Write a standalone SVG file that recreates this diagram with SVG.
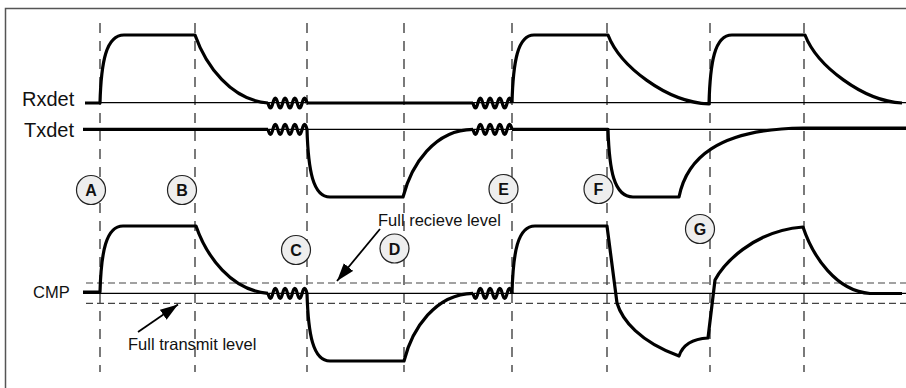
<svg xmlns="http://www.w3.org/2000/svg" xmlns:xlink="http://www.w3.org/1999/xlink" width="906" height="388" viewBox="0 0 906 388">
<style>
.thick{fill:none;stroke:#000;stroke-width:3.2;stroke-linejoin:round}
.thin{fill:none;stroke:#000;stroke-width:1.2}
.vdash{fill:none;stroke:#222;stroke-width:1.2;stroke-dasharray:10 8}
.hdash{fill:none;stroke:#444;stroke-width:1.2;stroke-dasharray:7 4}
.sig{font-family:"Liberation Sans",Arial,sans-serif;font-size:20px;fill:#111}
.lbl{font-family:"Liberation Sans",Arial,sans-serif;font-size:16.5px;fill:#111}
.mk circle{fill:#eeeeee;stroke:#222;stroke-width:1.2}
.mk text{font-family:"Liberation Sans",Arial,sans-serif;font-size:16px;font-weight:bold;fill:#111;text-anchor:middle}
.arr{fill:none;stroke:#000;stroke-width:1.8;marker-end:url(#ah)}
</style>
<defs>
<marker id="ah" markerUnits="userSpaceOnUse" markerWidth="20" markerHeight="14" refX="18" refY="6" orient="auto">
<path d="M0,0 L18,6 L0,12 z" fill="#000"/>
</marker>
<path id="sq" class="thick" d="M0,0 q2.44,10 4.875,0 q2.44,-10 4.875,0 q2.44,10 4.875,0 q2.44,-10 4.875,0 q2.44,10 4.875,0 q2.44,-10 4.875,0 q2.44,10 4.875,0 q2.44,-10 4.875,0"/>
</defs>
<rect x="5.5" y="8.5" width="1000" height="1000" fill="#fff" stroke="#555" stroke-width="1.5"/>
<g id="gridlines">
<path class="vdash" d="M100,23V372M195,23V372M307,23V372M404,23V372M512,23V372M607,23V372M710,23V372M804,23V372"/>
<path class="thin" d="M85,102.7H906M83,129.3H906M83,293.3H906"/>
<path class="hdash" d="M86,283H906M86,303.3H906"/>
</g>
<g id="rxdet">
<text class="sig" x="22" y="106">Rxdet</text>
<path class="thick" d="M85,103H100C101.1,62.2 106,35 124,35H195C205.8,65.6 231,100.3 268,103"/>
<use xlink:href="#sq" x="268" y="103"/>
<path class="thick" d="M307,103H473"/>
<use xlink:href="#sq" x="473" y="103"/>
<path class="thick" d="M512,103C513.1,62.2 517.5,35 534,35H608C620,66 666,102 709,104C710.1,62.6 714.5,35 732,35H805C817,66 863,101 902,103"/>
</g>
<g id="txdet">
<text class="sig" x="24" y="137">Txdet</text>
<path class="thick" d="M83,129.3H268"/>
<use xlink:href="#sq" x="268" y="129.3"/>
<path class="thick" d="M307,129.3C308.2,169.8 312.8,197 330,197H403C411.4,164.4 434.5,129.7 473,129.3"/>
<use xlink:href="#sq" x="473" y="129.3"/>
<path class="thick" d="M512,129.3H608C609.25,169.8 613.75,197 633,197H679C686.4,159.6 716.2,129 803,128H906"/>
</g>
<g id="cmp">
<text class="lbl" x="33" y="298">CMP</text>
<path class="thick" d="M83,292H100C101.15,252 106,226 123,226H196C206.6,256.6 231.5,290.6 268,293.3"/>
<use xlink:href="#sq" x="268" y="293.3"/>
<path class="thick" d="M307,293.3C308.2,334 312.8,361 330,361H404C412.2,328.4 435.5,294 473,293.3"/>
<use xlink:href="#sq" x="473" y="293.3"/>
<path class="thick" d="M512,293.3C513.1,252.5 517.5,226 535,226H607L617,303C622,320 640,342 679,356C682,347 690,339 708,338L715,280C723,265 752,231 803,227C813,257 836.5,291.3 870,293.5H902"/>
</g>
<g id="connectors">
<path class="arr" d="M138,332L178,304.5"/>
<path class="arr" d="M380,229L337,281"/>
</g>
<g id="level-labels">
<text class="lbl" x="128" y="350">Full transmit level</text>
<text class="lbl" x="378" y="226">Full recieve level</text>
</g>
<g id="marker-A" class="mk"><circle cx="91" cy="190" r="14.5"/><text x="91" y="196">A</text></g>
<g id="marker-B" class="mk"><circle cx="182" cy="190" r="14.5"/><text x="182" y="196">B</text></g>
<g id="marker-C" class="mk"><circle cx="296" cy="250" r="14.5"/><text x="296" y="256">C</text></g>
<g id="marker-D" class="mk"><circle cx="394.5" cy="248.5" r="14.5"/><text x="394.5" y="254.5">D</text></g>
<g id="marker-E" class="mk"><circle cx="503.5" cy="189" r="14.5"/><text x="503.5" y="195">E</text></g>
<g id="marker-F" class="mk"><circle cx="598.5" cy="189" r="14.5"/><text x="598.5" y="195">F</text></g>
<g id="marker-G" class="mk"><circle cx="700" cy="229" r="14.5"/><text x="700" y="235">G</text></g>
</svg>
